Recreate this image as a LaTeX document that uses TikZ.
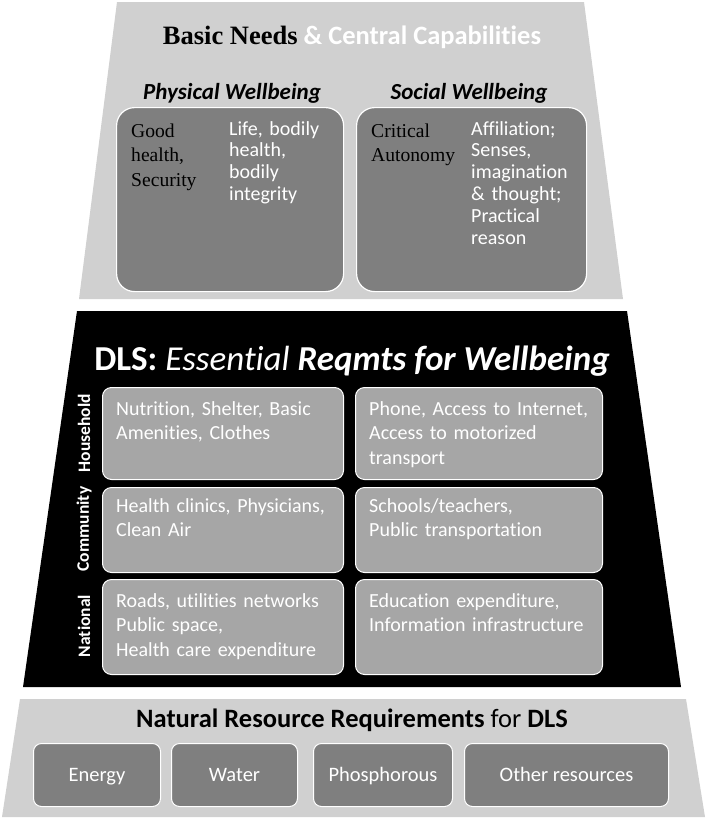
\documentclass[tikz,border=0pt]{standalone}
\usepackage{fontspec}
\setmainfont{Carlito}[Ligatures=NoCommon]
\newfontfamily\tnr{Liberation Serif}
\definecolor{lgray}{HTML}{D0D0D0}
\definecolor{dgray}{HTML}{7F7F7F}
\definecolor{mgray}{HTML}{A6A6A6}
\begin{document}
\begin{tikzpicture}[x=1pt,y=-1pt,
  dbox/.style={draw=white, line width=1.2pt, fill=dgray, rounded corners=18pt, anchor=north west, inner sep=0pt},
  gbox/.style={draw=white, line width=1pt, fill=mgray, rounded corners=9pt, anchor=north west, inner sep=0pt},
  rbox/.style={draw=white, line width=1pt, fill=dgray, rounded corners=8pt, anchor=north west, inner sep=0pt, text=white, text height=15pt, text depth=3pt, font=\fontsize{20.5}{24}\selectfont},
  seriftxt/.style={anchor=base west, inner sep=0pt, align=left, text width=#1, font=\tnr\fontsize{19.6}{24.5}\selectfont},
  boxtxt/.style={anchor=base west, inner sep=0pt, align=left, text width=#1, text=white, font=\fontsize{20}{21.8}\selectfont},
  gridtxt/.style={anchor=base west, inner sep=0pt, align=left, text width=#1, text=white, font=\fontsize{20}{24.5}\selectfont},
  rowlabel/.style={rotate=90, text=white, inner sep=0pt, font=\bfseries\fontsize{17.5}{20}\selectfont},
  header/.style={anchor=base, inner sep=0pt, font=\bfseries\itshape\fontsize{23}{27}\selectfont}]
\useasboundingbox (0,0) rectangle (708,820);
% bands
\fill[lgray] (117,2) -- (584,2) -- (623,299) -- (79,299) -- cycle;
\fill[black] (77,311) -- (627,311) -- (681,687) -- (23,687) -- cycle;
\fill[lgray] (20,699) -- (686,699) -- (705,817) -- (2,817) -- cycle;
% top section
\node[anchor=base, inner sep=0pt, font=\fontsize{26.5}{30}\selectfont] (t1) at (352,44)
  {{\tnr\bfseries Basic Needs} \textcolor{white}{\bfseries\& Central Capabilities}};
\node[header] (pwh) at (232,99) {Physical Wellbeing};
\node[header] (swh) at (469,99) {Social Wellbeing};
\node[dbox, minimum width=227pt, minimum height=184pt] (pw) at (116,107) {};
\node[dbox, minimum width=230pt, minimum height=184pt] (sw) at (356,107) {};
\node[seriftxt=95pt] (pwa) at (131,137) {Good\\health,\\Security};
\node[boxtxt=110pt] (pwb) at (229,135) {Life, bodily\\health,\\bodily\\integrity};
\node[seriftxt=100pt] (swa) at (371,137) {Critical\\Autonomy};
\node[boxtxt=112pt] (swb) at (471,135) {Affiliation;\\Senses,\\imagination\\\& thought;\\Practical\\reason};
% DLS section
\node[anchor=base, inner sep=0pt, text=white, font=\fontsize{35}{40}\selectfont] (t2) at (352,370)
  {\bfseries DLS: \mdseries\itshape Essential \bfseries Reqmts for Wellbeing};
\node[gbox, minimum width=241pt, minimum height=92pt] (h1) at (102,387) {};
\node[gbox, minimum width=247pt, minimum height=92pt] (h2) at (355,387) {};
\node[gbox, minimum width=241pt, minimum height=85pt] (c1) at (102,487) {};
\node[gbox, minimum width=247pt, minimum height=85pt] (c2) at (355,487) {};
\node[gbox, minimum width=241pt, minimum height=95pt] (n1) at (102,579) {};
\node[gbox, minimum width=247pt, minimum height=95pt] (n2) at (355,579) {};
\node[gridtxt=225pt] (h1t) at (116,415) {Nutrition, Shelter, Basic\\Amenities, Clothes};
\node[gridtxt=230pt] (h2t) at (369,415) {Phone, Access to Internet,\\Access to motorized\\transport};
\node[gridtxt=225pt] (c1t) at (116,512) {Health clinics, Physicians,\\Clean Air};
\node[gridtxt=230pt] (c2t) at (369,512) {Schools/teachers,\\Public transportation};
\node[gridtxt=225pt] (n1t) at (116,607) {Roads, utilities networks\\Public space,\\Health care expenditure};
\node[gridtxt=230pt] (n2t) at (369,607) {Education expenditure,\\Information infrastructure};
\node[rowlabel] (lh) at (84,433) {Household};
\node[rowlabel] (lc) at (84,529) {Community};
\node[rowlabel] (ln) at (84,626) {National};
% resources
\node[anchor=base, inner sep=0pt, font=\fontsize{26.5}{30}\selectfont] (t3) at (352,727)
  {\bfseries Natural Resource Requirements \mdseries for \bfseries DLS};
\node[rbox, minimum width=127pt, minimum height=63pt] (en) at (33,743) {Energy};
\node[rbox, minimum width=126pt, minimum height=63pt] (wa) at (171,743) {Water};
\node[rbox, minimum width=139pt, minimum height=63pt] (ph) at (313,743) {Phosphorous};
\node[rbox, minimum width=204pt, minimum height=63pt] (ot) at (464,743) {Other resources};
\end{tikzpicture}
\end{document}
